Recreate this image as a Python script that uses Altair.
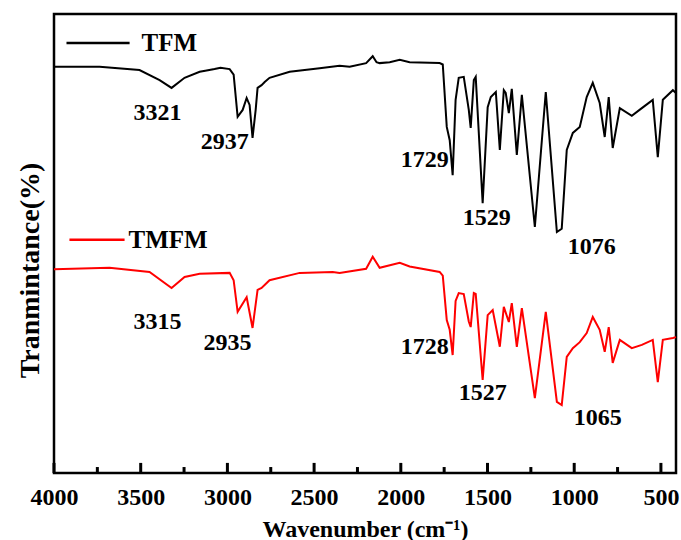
import altair as alt
import pandas as pd

# ---- data ----
tfm_wn = [4000, 3737, 3507, 3391, 3322, 3247, 3160, 3120, 3074, 3040, 2987, 2964, 2941, 2912, 2889,
          2872, 2855, 2837, 2826, 2803, 2785, 2757, 2641, 2468, 2353, 2295, 2200, 2162, 2140, 2122,
          2064, 2006, 1949, 1776, 1758, 1735, 1718, 1701, 1684, 1666, 1637, 1608, 1597, 1579, 1568,
          1528, 1499, 1481, 1452, 1429, 1406, 1395, 1377, 1360, 1331, 1302, 1227, 1164, 1100, 1072,
          1043, 1008, 968, 928, 893, 853, 824, 801, 778, 737, 668, 610, 547, 518, 489, 431, 413]
tfm_t = [88.5, 88.5, 87.8, 85.6, 83.9, 86.1, 87.4, 87.7, 88.0, 88.3, 88.0, 86.8, 77.6, 79.1, 81.7,
         80.2, 73.0, 79.1, 83.9, 84.5, 85.2, 86.1, 87.4, 88.2, 88.7, 88.5, 89.3, 90.8, 89.5, 89.3,
         89.5, 90.0, 89.5, 89.3, 89.0, 75.4, 72.5, 64.9, 81.3, 86.1, 86.3, 79.1, 75.2, 85.6, 86.3,
         58.8, 79.7, 81.9, 83.0, 70.4, 83.4, 82.8, 78.4, 83.7, 69.3, 82.4, 53.6, 83.0, 52.5, 53.2,
         70.4, 74.1, 75.4, 81.9, 85.0, 80.6, 73.2, 81.9, 70.8, 79.5, 77.8, 79.5, 81.3, 68.8, 81.3,
         83.4, 82.8]

tmfm_wn = [4000, 3680, 3449, 3322, 3247, 3160, 2987, 2964, 2941, 2889, 2855, 2826, 2803, 2757, 2583,
           2393, 2353, 2200, 2162, 2122, 2006, 1949, 1776, 1758, 1735, 1718, 1701, 1684, 1666, 1637,
           1608, 1597, 1579, 1568, 1528, 1499, 1470, 1429, 1406, 1377, 1360, 1331, 1302, 1227, 1164,
           1100, 1072, 1043, 1008, 968, 928, 893, 853, 824, 801, 778, 737, 668, 610, 547, 518, 489,
           431, 413]
tmfm_t = [44.4, 44.7, 43.8, 40.3, 42.7, 43.4, 43.6, 42.0, 35.1, 38.3, 31.6, 39.9, 40.3, 42.0, 43.6,
          43.8, 43.6, 44.5, 47.1, 44.7, 45.8, 45.0, 43.8, 43.0, 33.3, 31.2, 25.7, 37.5, 39.2, 39.0,
          33.0, 31.8, 39.2, 39.0, 20.3, 34.4, 35.5, 27.5, 36.2, 32.9, 37.0, 27.5, 35.9, 16.3, 35.1,
          15.5, 14.8, 25.3, 27.2, 28.5, 30.5, 34.0, 31.2, 26.4, 31.8, 24.0, 29.0, 27.2, 27.9, 29.0,
          19.8, 29.0, 29.4, 29.6]

peak_labels = ["3321", "2937", "1729", "1529", "1076", "3315", "2935", "1728", "1527", "1065"]
peak_x = [3403, 3016, 1862, 1505, 899, 3403, 2999, 1862, 1528, 864]
peak_y = [78.4, 72.1, 68.2, 55.6, 49.2, 32.9, 28.3, 27.5, 17.4, 12.0]

series_names = ["TFM", "TMFM"]
series_colors = ["#000000", "#ff0000"]
legend_x1 = [3928, 3911]
legend_x2 = [3564, 3593]
legend_y = [93.7, 50.8]
legend_text_x = [3495, 3570]

major_ticks = [4000, 3500, 3000, 2500, 2000, 1500, 1000, 500]
minor_ticks = [3750, 3250, 2750, 2250, 1750, 1250, 750]

# ---- tables ----
lines_df = pd.concat([
    pd.DataFrame({"wn": tfm_wn, "t": tfm_t, "s": "TFM"}),
    pd.DataFrame({"wn": tmfm_wn, "t": tmfm_t, "s": "TMFM"}),
])
peaks_df = pd.DataFrame({"label": peak_labels, "wn": peak_x, "t": peak_y})
legend_df = pd.DataFrame({"s": series_names, "x1": legend_x1, "x2": legend_x2,
                          "t": legend_y, "tx": legend_text_x})

# tick marks pointing into the plot (lengths expressed in y-scale units)
MAJOR_LEN = 2.2
MINOR_LEN = 1.3
ticks_df = pd.concat([
    pd.DataFrame({"wn": major_ticks, "y0": 0.0, "y1": MAJOR_LEN}),
    pd.DataFrame({"wn": minor_ticks, "y0": 0.0, "y1": MINOR_LEN}),
])

FONT = "Liberation Serif"
xscale = alt.Scale(domain=[4000, 413], nice=False, zero=False)
yscale = alt.Scale(domain=[0, 100], nice=False, zero=False)
color = alt.Color("s:N", scale=alt.Scale(domain=series_names, range=series_colors), legend=None)

x_axis = alt.Axis(values=major_ticks, format="d", grid=False, ticks=False, domain=False,
                  labelFlush=False, labelOverlap=False,
                  labelFont=FONT, labelFontWeight="bold", labelFontSize=24, labelColor="black",
                  labelPadding=12, title="Wavenumber (cm⁻¹)", titleFont=FONT,
                  titleFontWeight="bold", titleFontSize=24, titleColor="black", titlePadding=8)
y_axis = alt.Axis(labels=False, ticks=False, domain=False, grid=False,
                  title="Tranmintance(%)", titleFont=FONT, titleFontWeight="bold",
                  titleFontSize=28, titleColor="black", titlePadding=10, titleY=256)

lines = alt.Chart(lines_df).mark_line(strokeWidth=2).encode(
    x=alt.X("wn:Q", scale=xscale, axis=x_axis),
    y=alt.Y("t:Q", scale=yscale, axis=y_axis),
    color=color,
    order=alt.Order("wn:Q", sort="descending"),
)

peaks = alt.Chart(peaks_df).mark_text(font=FONT, fontWeight="bold", fontSize=24,
                                      color="black").encode(
    x=alt.X("wn:Q", scale=xscale), y=alt.Y("t:Q", scale=yscale), text="label:N")

leg_rules = alt.Chart(legend_df).mark_rule(strokeWidth=2.5).encode(
    x=alt.X("x1:Q", scale=xscale), x2="x2:Q", y=alt.Y("t:Q", scale=yscale), color=color)

leg_text = alt.Chart(legend_df).mark_text(font=FONT, fontWeight="bold", fontSize=25,
                                          color="black", align="left", baseline="middle").encode(
    x=alt.X("tx:Q", scale=xscale), y=alt.Y("t:Q", scale=yscale), text="s:N")

ticks = alt.Chart(ticks_df).mark_rule(strokeWidth=3, color="black").encode(
    x=alt.X("wn:Q", scale=xscale), y=alt.Y("y0:Q", scale=yscale), y2="y1:Q")

chart = alt.layer(lines, peaks, leg_rules, leg_text, ticks).properties(
    width=622, height=459,
    autosize=alt.AutoSizeParams(type="none"),
    padding={"left": 54, "top": 14, "right": 5, "bottom": 67},
    background="white",
).configure_view(stroke="black", strokeWidth=2.5)

chart.save("out.html", embed_options={"renderer": "svg", "actions": False})
